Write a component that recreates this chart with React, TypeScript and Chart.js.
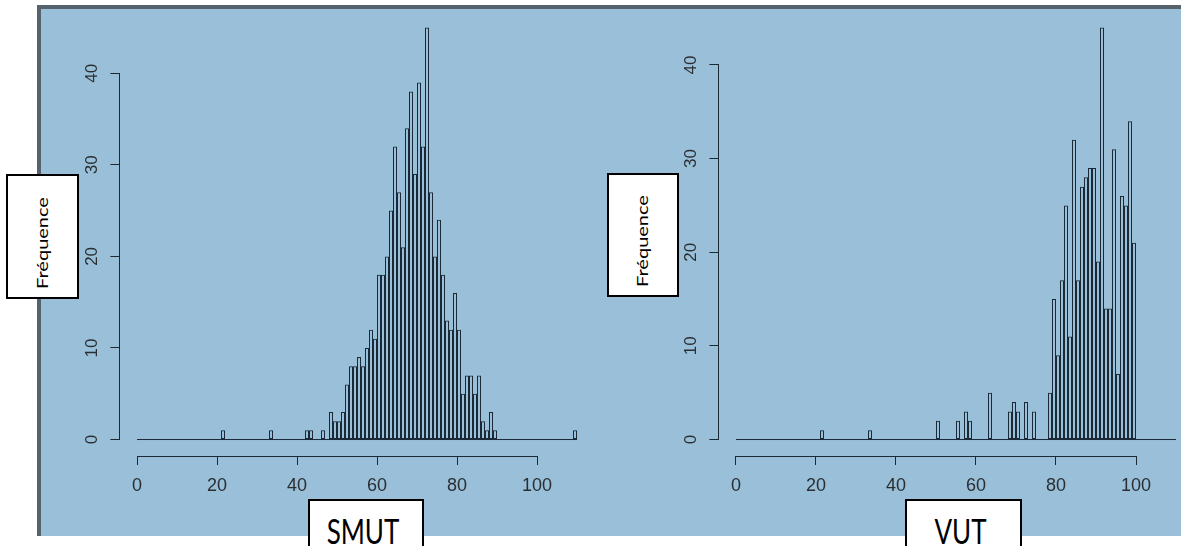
import React, { useEffect, useRef } from 'react';
import { Chart, registerables } from 'chart.js';

Chart.register(...registerables);

// ---- data (histogram bins of width 1, bin start -> count) ----
const BREAK_MIN = 0;
const BREAK_MAX = 110;

const SMUT_BINS = [21, 33, 42, 43, 46, 48, 49, 50, 51, 52, 53, 54, 55, 56, 57, 58, 59, 60, 61, 62, 63, 64, 65, 66, 67, 68, 69, 70, 71, 72, 73, 74, 75, 76, 77, 78, 79, 80, 81, 82, 83, 84, 85, 86, 87, 88, 89, 109];
const SMUT_COUNTS = [1, 1, 1, 1, 1, 3, 2, 2, 3, 6, 8, 8, 9, 8, 10, 12, 11, 18, 18, 20, 25, 32, 27, 21, 34, 38, 29, 39, 32, 45, 27, 20, 24, 18, 13, 12, 16, 12, 5, 7, 7, 5, 7, 2, 1, 3, 1, 1];

const VUT_BINS = [21, 33, 50, 55, 57, 58, 63, 68, 69, 70, 72, 74, 78, 79, 80, 81, 82, 83, 84, 85, 86, 87, 88, 89, 90, 91, 92, 93, 94, 95, 96, 97, 98, 99];
const VUT_COUNTS = [1, 1, 2, 2, 3, 2, 5, 3, 4, 3, 4, 3, 5, 15, 9, 17, 25, 11, 32, 17, 27, 28, 29, 29, 19, 44, 14, 14, 31, 7, 26, 25, 34, 21];

const Y_TICKS = [0, 10, 20, 30, 40];
const X_TICKS = [0, 20, 40, 60, 80, 100];

const Y_LABEL = 'Fréquence';
const SMUT_LABEL = 'SMUT';
const VUT_LABEL = 'VUT';

// ---- style ----
const PANEL_BLUE = '#9AC0D9';
const FRAME = '#56636D';
const INK = '#1B2836';
const TEXT = '#2A2E33';
const TICK_FONT = 'Liberation Sans, Arial, sans-serif';
const BOX_FONT = 'Lato, Carlito, Calibri, sans-serif';

type Geo = {
  canvasLeft: number;
  canvasWidth: number;
  height: number;
  plotLeft: number;
  plotRight: number;
  plotTop: number;
  plotBottom: number;
};

const LEFT_GEO: Geo = { canvasLeft: 40, canvasWidth: 560, height: 536, plotLeft: 119.4, plotRight: 594.6, plotTop: 11, plotBottom: 456 };
const RIGHT_GEO: Geo = { canvasLeft: 600, canvasWidth: 600, height: 536, plotLeft: 718.4, plotRight: 1193.6, plotTop: 11, plotBottom: 456 };

function alignPx(v: number) {
  return Math.round(v - 0.5) + 0.5;
}

function Histogram({ bins, counts, geo }: { bins: number[]; counts: number[]; geo: Geo }) {
  const ref = useRef<HTMLCanvasElement | null>(null);

  useEffect(() => {
    const canvas = ref.current;
    if (!canvas) return;
    const maxCount = Math.max(...counts);
    const yPad = maxCount * 0.04;
    const xPad = (BREAK_MAX - BREAK_MIN) * 0.04;

    const axisLines = {
      id: 'rAxisLines',
      afterDraw(chart: any) {
        const { ctx, chartArea, scales } = chart;
        const xs = scales.x;
        const ys = scales.y;
        ctx.save();
        ctx.strokeStyle = INK;
        ctx.lineWidth = 1;
        ctx.beginPath();
        const yb = alignPx(chartArea.bottom);
        ctx.moveTo(alignPx(xs.getPixelForValue(X_TICKS[0])) - 0.5, yb);
        ctx.lineTo(alignPx(xs.getPixelForValue(X_TICKS[X_TICKS.length - 1])) + 0.5, yb);
        const xl = alignPx(chartArea.left);
        ctx.moveTo(xl, alignPx(ys.getPixelForValue(Y_TICKS[0])) + 0.5);
        ctx.lineTo(xl, alignPx(ys.getPixelForValue(Y_TICKS[Y_TICKS.length - 1])) - 0.5);
        ctx.stroke();
        ctx.restore();
      },
    };

    const chart = new Chart(canvas, {
      type: 'bar',
      data: {
        datasets: [
          {
            type: 'bar',
            data: bins.map((b, i) => ({ x: b + 0.5, y: counts[i] })),
            backgroundColor: 'rgba(0,0,0,0)',
            borderColor: INK,
            borderWidth: 1,
            borderSkipped: false,
            inflateAmount: 0,
            barPercentage: 1,
            categoryPercentage: 1,
            grouped: false,
            order: 2,
          } as any,
          {
            type: 'line',
            data: [
              { x: BREAK_MIN, y: 0 },
              { x: BREAK_MAX, y: 0 },
            ],
            borderColor: INK,
            borderWidth: 1,
            pointRadius: 0,
            fill: false,
            order: 1,
          } as any,
        ],
      },
      options: {
        animation: false,
        responsive: false,
        maintainAspectRatio: false,
        layout: {
          padding: {
            left: 0,
            top: geo.plotTop,
            right: geo.canvasLeft + geo.canvasWidth - geo.plotRight,
            bottom: 0,
          },
        },
        plugins: {
          legend: { display: false },
          tooltip: { enabled: false },
        },
        scales: {
          x: {
            type: 'linear',
            min: BREAK_MIN - xPad,
            max: BREAK_MAX + xPad,
            offset: false,
            afterBuildTicks: (s: any) => {
              s.ticks = X_TICKS.map((value) => ({ value }));
            },
            afterFit: (s: any) => {
              s.height = geo.height - geo.plotBottom;
              s.paddingLeft = 0;
              s.paddingRight = 0;
              s.paddingTop = 0;
              s.paddingBottom = 0;
            },
            grid: { offset: false, drawOnChartArea: false, drawTicks: true, tickLength: 9, color: INK, lineWidth: 1 },
            border: { display: false },
            ticks: {
              autoSkip: false,
              maxRotation: 0,
              minRotation: 0,
              padding: 10,
              color: TEXT,
              font: { family: TICK_FONT, size: 18 },
              callback: (v: any) => String(v),
            },
          },
          y: {
            type: 'linear',
            min: -yPad,
            max: maxCount + yPad,
            afterBuildTicks: (s: any) => {
              s.ticks = Y_TICKS.map((value) => ({ value }));
            },
            afterFit: (s: any) => {
              s.width = geo.plotLeft - geo.canvasLeft;
              s.paddingLeft = 0;
              s.paddingRight = 0;
              s.paddingTop = 0;
              s.paddingBottom = 0;
            },
            grid: { drawOnChartArea: false, drawTicks: true, tickLength: 9, color: INK, lineWidth: 1 },
            border: { display: false },
            ticks: {
              autoSkip: false,
              minRotation: 90,
              maxRotation: 90,
              crossAlign: 'center',
              padding: 8.5,
              color: TEXT,
              font: { family: TICK_FONT, size: 17 },
              callback: (v: any) => String(v),
            },
          },
        },
      } as any,
      plugins: [axisLines],
    });

    return () => chart.destroy();
  }, [bins, counts, geo]);

  return (
    <canvas
      ref={ref}
      width={geo.canvasWidth}
      height={geo.height}
      style={{ position: 'absolute', left: geo.canvasLeft, top: 0, width: geo.canvasWidth, height: geo.height }}
    />
  );
}

type Box = { left: number; top: number; width: number; height: number };

function RotatedLabel({ box, text }: { box: Box; text: string }) {
  return (
    <div
      style={{
        position: 'absolute',
        left: box.left,
        top: box.top,
        width: box.width,
        height: box.height,
        background: '#FFFFFF',
        border: '2px solid #000000',
        boxSizing: 'border-box',
      }}
    >
      <span
        style={{
          position: 'absolute',
          left: box.width / 2 - 4,
          top: box.height / 2 + 4,
          transform: 'translate(-50%, -50%) rotate(-90deg) scale(1.25, 1)',
          fontFamily: BOX_FONT,
          fontSize: 16,
          lineHeight: '19px',
          whiteSpace: 'nowrap',
          color: '#000000',
        }}
      >
        {text}
      </span>
    </div>
  );
}

function BottomLabel({ box, text }: { box: Box; text: string }) {
  return (
    <div
      style={{
        position: 'absolute',
        left: box.left,
        top: box.top,
        width: box.width,
        height: box.height,
        background: '#FFFFFF',
        border: '2px solid #000000',
        boxSizing: 'border-box',
      }}
    >
      <span
        style={{
          position: 'absolute',
          left: 0,
          right: 6,
          top: 12,
          textAlign: 'center',
          transform: 'scale(1, 1.35)',
          transformOrigin: 'top',
          fontFamily: BOX_FONT,
          fontSize: 26,
          lineHeight: 1,
          whiteSpace: 'nowrap',
          color: '#000000',
        }}
      >
        {text}
      </span>
    </div>
  );
}

export default function App() {
  return (
    <div
      style={{
        position: 'fixed',
        left: 0,
        top: 0,
        width: 1181,
        height: 546,
        overflow: 'hidden',
        background: '#FFFFFF',
      }}
    >
      <div
        style={{
          position: 'absolute',
          left: 37,
          top: 5,
          width: 1144,
          height: 531,
          background: PANEL_BLUE,
          borderTop: `4px solid ${FRAME}`,
          borderLeft: `4px solid ${FRAME}`,
          boxSizing: 'border-box',
        }}
      />
      <Histogram bins={SMUT_BINS} counts={SMUT_COUNTS} geo={LEFT_GEO} />
      <Histogram bins={VUT_BINS} counts={VUT_COUNTS} geo={RIGHT_GEO} />
      <RotatedLabel box={{ left: 6, top: 174, width: 73, height: 125 }} text={Y_LABEL} />
      <RotatedLabel box={{ left: 607, top: 173, width: 72, height: 124 }} text={Y_LABEL} />
      <BottomLabel box={{ left: 308, top: 499, width: 116, height: 60 }} text={SMUT_LABEL} />
      <BottomLabel box={{ left: 905, top: 499, width: 117, height: 60 }} text={VUT_LABEL} />
    </div>
  );
}
